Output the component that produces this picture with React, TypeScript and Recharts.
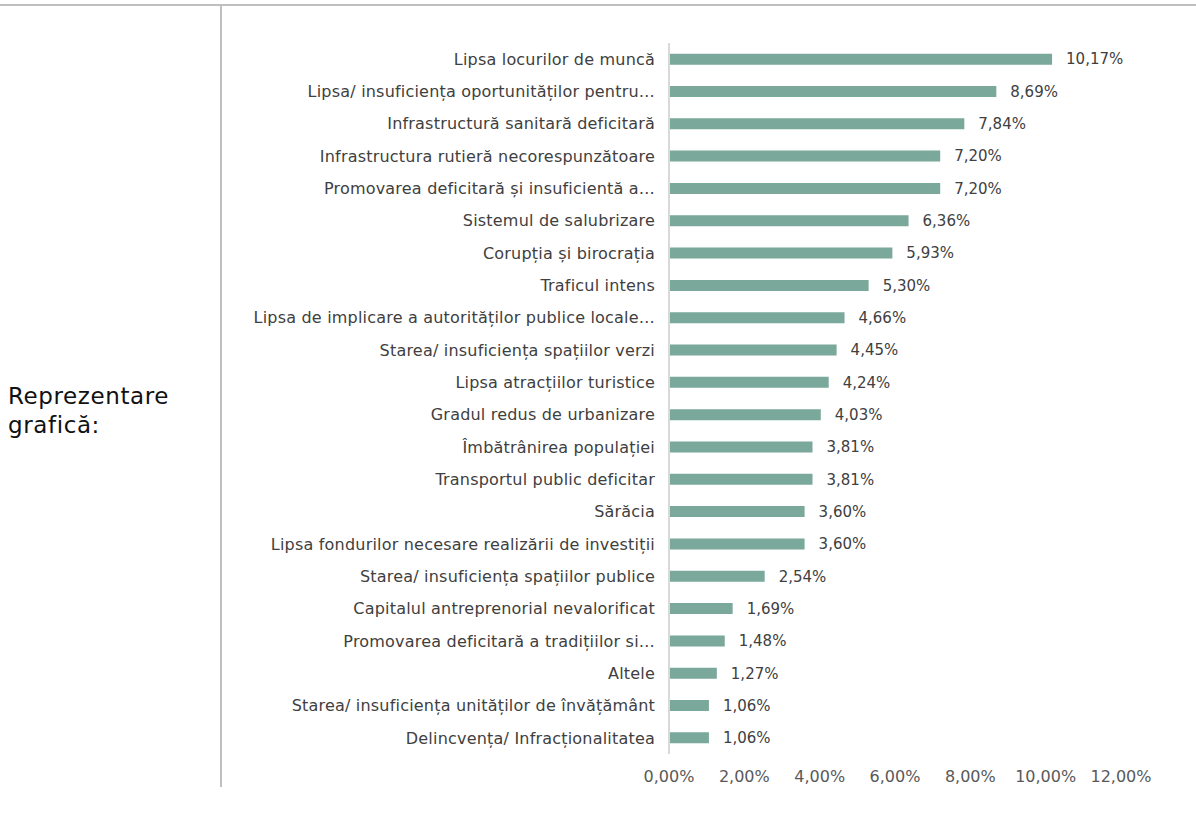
import { BarChart, Bar, XAxis, YAxis, LabelList } from "recharts"

const categories = [
  "Lipsa locurilor de muncă",
  "Lipsa/ insuficiența oportunităților pentru…",
  "Infrastructură sanitară deficitară",
  "Infrastructura rutieră necorespunzătoare",
  "Promovarea deficitară și insuficientă a…",
  "Sistemul de salubrizare",
  "Corupția și birocrația",
  "Traficul intens",
  "Lipsa de implicare a autorităților publice locale…",
  "Starea/ insuficiența spațiilor verzi",
  "Lipsa atracțiilor turistice",
  "Gradul redus de urbanizare",
  "Îmbătrânirea populației",
  "Transportul public deficitar",
  "Sărăcia",
  "Lipsa fondurilor necesare realizării de investiții",
  "Starea/ insuficiența spațiilor publice",
  "Capitalul antreprenorial nevalorificat",
  "Promovarea deficitară a tradițiilor si…",
  "Altele",
  "Starea/ insuficiența unităților de învățământ",
  "Delincvența/ Infracționalitatea",
]

const values = [
  10.17, 8.69, 7.84, 7.2, 7.2, 6.36, 5.93, 5.3, 4.66, 4.45, 4.24, 4.03, 3.81,
  3.81, 3.6, 3.6, 2.54, 1.69, 1.48, 1.27, 1.06, 1.06,
]

const xTicks = [0, 2, 4, 6, 8, 10, 12]

const pct = (v: number) => v.toFixed(2).replace(".", ",") + "%"

const data = categories.map((name, i) => ({ name, value: values[i] }))

const font = "'DejaVu Sans', sans-serif"

export default function App() {
  return (
    <div
      style={{
        position: "absolute",
        left: 0,
        top: 0,
        width: 1196,
        height: 814,
        background: "#fff",
        fontFamily: font,
      }}
    >
      <div style={{ position: "absolute", left: 0, top: 4, width: 1196, height: 2, background: "#bfbfbf" }} />
      <div style={{ position: "absolute", left: 220, top: 6, width: 2, height: 781, background: "#bfbfbf" }} />
      <div
        style={{
          position: "absolute",
          left: 8,
          top: 382,
          fontSize: 23,
          letterSpacing: 0.6,
          lineHeight: "29px",
          color: "#111",
        }}
      >
        Reprezentare
        <br />
        grafică:
      </div>
      <div style={{ position: "absolute", left: 222, top: 0 }}>
        <BarChart
          width={974}
          height={814}
          data={data}
          layout="vertical"
          margin={{ top: 43, right: 75, bottom: 0, left: 0 }}
          barCategoryGap="33%"
        >
          <XAxis
            type="number"
            domain={[0, 12]}
            ticks={xTicks}
            tickFormatter={pct}
            axisLine={false}
            tickLine={false}
            height={60}
            tickMargin={11}
            tick={{ fill: "#595959", fontSize: 16, fontFamily: font }}
          />
          <YAxis
            type="category"
            dataKey="name"
            width={447}
            axisLine={{ stroke: "#d9d9d9", strokeWidth: 2 }}
            tickLine={false}
            interval={0}
            tickMargin={8}
            tick={{ fill: "#404040", fontSize: 16, letterSpacing: 0.2, fontFamily: font }}
          />
          <Bar dataKey="value" fill="#7aa89a" isAnimationActive={false}>
            <LabelList
              dataKey="value"
              position="right"
              offset={14}
              formatter={(v: number) => pct(v)}
              style={{ fill: "#404040", fontSize: 15, fontFamily: font }}
            />
          </Bar>
        </BarChart>
      </div>
    </div>
  )
}
